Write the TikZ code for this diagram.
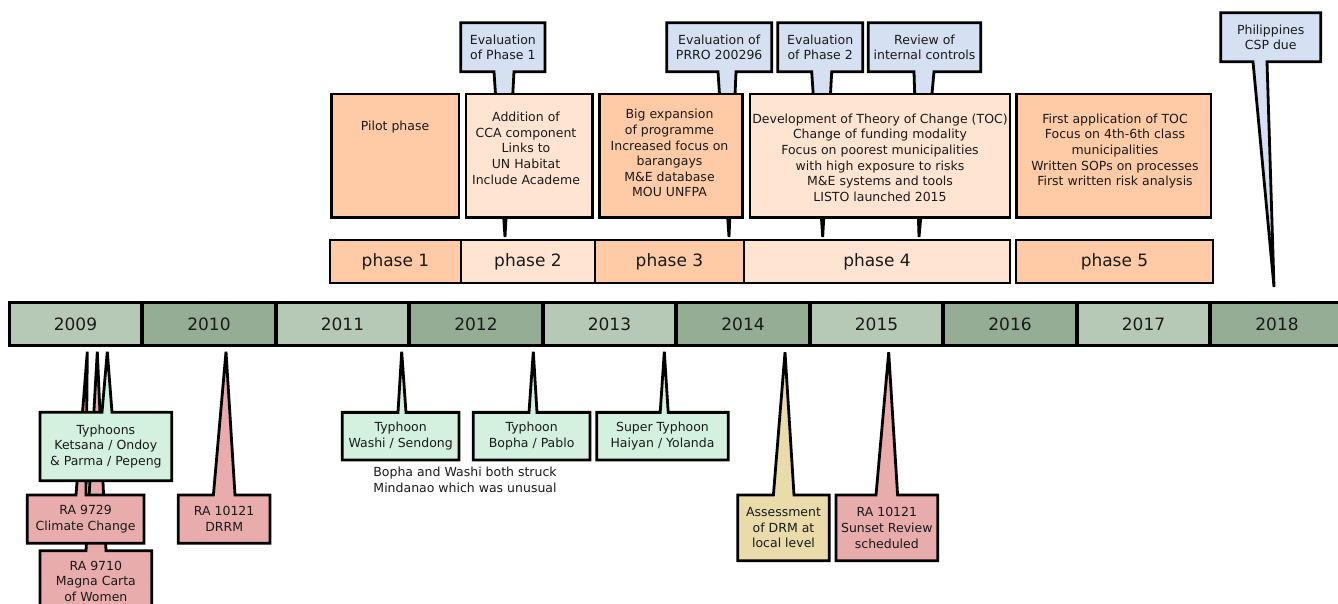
\documentclass[tikz,border=0pt]{standalone}
\usepackage{fontspec}
\setmainfont{DejaVu Sans}
\usetikzlibrary{calc}
\pgfdeclarelayer{shapes}
\pgfsetlayers{shapes,main}
\definecolor{peachD}{HTML}{FFCBA6}
\definecolor{peachL}{HTML}{FFE4D2}
\definecolor{evblue}{HTML}{D5E0F2}
\definecolor{tymint}{HTML}{D4F1E0}
\definecolor{rared}{HTML}{E8ACAC}
\definecolor{asyel}{HTML}{E9DBAA}
\definecolor{yrL}{HTML}{B6C9B6}
\definecolor{yrD}{HTML}{95AD95}
\definecolor{ink}{HTML}{1A1A1A}
\tikzset{
  blackrim/.style={draw=black, line width=2.8pt},
  yearbox/.style={blackrim, minimum width=132, minimum height=43, inner sep=0, outer sep=0, font=\fontsize{17}{20}\selectfont, text=ink},
  phasebox/.style={blackrim, minimum height=43, inner sep=0, outer sep=0, font=\fontsize{17}{20}\selectfont, text=ink},
  contentbox/.style={blackrim, inner sep=0, outer sep=0},
  bodytext/.style={inner sep=0, outer sep=0, align=center, text=ink, font=\fontsize{12.5}{15.6}\selectfont},
}
\newcommand\CallDn[5]{\filldraw[blackrim,fill=#5] let \p1=(#1.south) in (#1.south west) -- ({#3-#4},\y1) -- (#2) -- ({#3+#4},\y1) -- (#1.south east) -- (#1.north east) -- (#1.north west) -- cycle;}
\newcommand\CallUp[5]{\filldraw[blackrim,fill=#5] let \p1=(#1.north) in (#1.north west) -- ({#3-#4},\y1) -- (#2) -- ({#3+#4},\y1) -- (#1.north east) -- (#1.south east) -- (#1.south west) -- cycle;}
\begin{document}
\begin{tikzpicture}[x=1pt,y=-1pt]
\useasboundingbox (0,0) rectangle (1338,604);
\clip (0,0) rectangle (1338,604);

% year bar
\foreach \i/\yr/\c in {0/2009/yrL,1/2010/yrD,2/2011/yrL,3/2012/yrD,4/2013/yrL,5/2014/yrD,6/2015/yrL,7/2016/yrD,8/2017/yrL,9/2018/yrD}
  \node[yearbox, fill=\c] (y\yr) at ({75.5+133.5*\i},324) {\yr};

% phase bar
\node[phasebox, fill=peachD, minimum width=131] (p1) at (395.5,261.5) {phase 1};
\node[phasebox, fill=peachL, minimum width=134] (p2) at (528,261.5) {phase 2};
\node[phasebox, fill=peachD, minimum width=149] (p3) at (669.5,261.5) {phase 3};
\node[phasebox, fill=peachL, minimum width=266] (p4) at (877,261.5) {phase 4};
\node[phasebox, fill=peachD, minimum width=197] (p5) at (1114.5,261.5) {phase 5};

% content boxes
\node[contentbox, fill=peachD, minimum width=127.3, minimum height=123.7] (c1) at (395.35,155.85) {};
\node[contentbox, fill=peachL, minimum width=126.3, minimum height=123.7] (c2) at (529.15,155.85) {};
\node[contentbox, fill=peachD, minimum width=143, minimum height=123.7] (c3) at (670.8,155.85) {};
\node[contentbox, fill=peachL, minimum width=260, minimum height=123.7] (c4) at (880,155.85) {};
\node[contentbox, fill=peachD, minimum width=194.3, minimum height=123.7] (c5) at (1113.85,155.85) {};
\node[bodytext, anchor=north] (t1) at (395,121.2) {Pilot phase};
\node[bodytext, anchor=north] (t2) at (526,112.2) {Addition of\\CCA component\\Links to\\UN Habitat\\Include Academe};
\node[bodytext, anchor=north] (t3) at (669.5,109.5) {Big expansion\\of programme\\Increased focus on\\barangays\\M\&E database\\MOU UNFPA};
\node[bodytext, anchor=north] (t4) at (880,113.8) {Development of Theory of Change (TOC)\\Change of funding modality\\Focus on poorest municipalities\\with high exposure to risks\\M\&E systems and tools\\LISTO launched 2015};
\node[bodytext, anchor=north] (t5) at (1115,113.8) {First application of TOC\\Focus on 4th-6th class\\municipalities\\Written SOPs on processes\\First written risk analysis};

% top callouts
\node[bodytext, minimum width=84.3, minimum height=49] (e1) at (502.85,47.2) {Evaluation\\of Phase 1};
\node[bodytext, minimum width=105, minimum height=49] (e2) at (719.2,47.2) {Evaluation of\\PRRO 200296};
\node[bodytext, minimum width=85, minimum height=49] (e3) at (820.2,47.2) {Evaluation\\of Phase 2};
\node[bodytext, minimum width=112.4, minimum height=49] (e4) at (924.5,47.2) {Review of\\internal controls};
\node[bodytext, minimum width=100, minimum height=49] (ph) at (1270.7,37.2) {Philippines\\CSP due};
\coordinate (te1) at (505,237);
\coordinate (te2) at (729,237);
\coordinate (te3) at (822.7,237);
\coordinate (te4) at (919,237);
\coordinate (tph) at (1274,287);

% bottom callouts
\node[bodytext, minimum width=111.7, minimum height=61.3] (r10) at (95.85,581.35) {RA 9710\\Magna Carta\\of Women};
\node[bodytext, minimum width=116.7, minimum height=48.3] (r29) at (85.65,519.15) {RA 9729\\Climate Change};
\node[bodytext, minimum width=131.7, minimum height=68.4] (ty) at (105.85,446.5) {Typhoons\\Ketsana / Ondoy\\\& Parma / Pepeng};
\node[bodytext, minimum width=91.7, minimum height=48.3] (rdr) at (224.15,519.15) {RA 10121\\DRRM};
\node[bodytext, minimum width=116.7, minimum height=47.7] (wa) at (400.65,436.2) {Typhoon\\Washi / Sendong};
\node[bodytext, minimum width=116.7, minimum height=47.7] (bo) at (531.65,436.2) {Typhoon\\Bopha / Pablo};
\node[bodytext, minimum width=131.6, minimum height=47.7] (ha) at (662.5,436.2) {Super Typhoon\\Haiyan / Yolanda};
\node[bodytext, minimum width=91.6, minimum height=65.7] (as) at (783.5,527.85) {Assessment\\of DRM at\\local level};
\node[bodytext, minimum width=101.7, minimum height=65.7] (su) at (886.85,527.85) {RA 10121\\Sunset Review\\scheduled};
\node[bodytext, anchor=north] (note) at (465,467.2) {Bopha and Washi both struck\\Mindanao which was unusual};
\coordinate (tr10) at (97.3,351.7);
\coordinate (tr29) at (87.3,351.7);
\coordinate (tty) at (107.3,351.7);
\coordinate (trdr) at (226,351.7);
\coordinate (twa) at (401.7,351.7);
\coordinate (tbo) at (533.3,351.7);
\coordinate (tha) at (664.3,351.7);
\coordinate (tas) at (785,352.3);
\coordinate (tsu) at (888.7,352.3);

\begin{pgfonlayer}{shapes}
\CallDn{e1}{te1}{504}{10}{evblue}
\CallDn{e2}{te2}{727}{9}{evblue}
\CallDn{e3}{te3}{821.7}{10}{evblue}
\CallDn{e4}{te4}{924}{10}{evblue}
\CallDn{ph}{tph}{1260}{7}{evblue}
\CallUp{r10}{tr10}{96}{10}{rared}
\CallUp{r29}{tr29}{81}{5}{rared}
\CallUp{ty}{tty}{107}{5}{tymint}
\CallUp{rdr}{trdr}{224.2}{10.8}{rared}
\CallUp{wa}{twa}{402}{4}{tymint}
\CallUp{bo}{tbo}{533}{4}{tymint}
\CallUp{ha}{tha}{664.2}{4}{tymint}
\CallUp{as}{tas}{783.7}{10.3}{asyel}
\CallUp{su}{tsu}{886.8}{10.8}{rared}
\end{pgfonlayer}
\end{tikzpicture}
\end{document}
